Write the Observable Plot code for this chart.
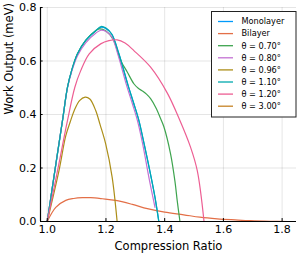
<!DOCTYPE html>
<html><head><meta charset="utf-8">
<script src="https://cdn.jsdelivr.net/npm/d3@7"></script>
<script src="https://cdn.jsdelivr.net/npm/@observablehq/plot@0.6"></script>
<style>
body{margin:0;background:#fff;}
#wrap{position:relative;width:299px;height:254px;font-family:"DejaVu Sans",sans-serif;}
#legend{position:absolute;left:210px;top:10px;}
</style></head><body><div id="wrap"></div>
<script>
const seriesNames = ["Monolayer","Bilayer","θ = 0.70°","θ = 0.80°","θ = 0.96°","θ = 1.10°","θ = 1.20°","θ = 3.00°"];
const seriesColors = ["#009AFA","#E36F47","#3EA44E","#C371D2","#AC8E18","#00A9AD","#ED5E93","#C68225"];
const xTicks = [1.0, 1.2, 1.4, 1.6, 1.8];
const yTicks = [0.0, 0.2, 0.4, 0.6, 0.8];

const monoX = [1.0, 1.026, 1.052, 1.069, 1.083, 1.103, 1.131, 1.166, 1.183, 1.20, 1.22, 1.244, 1.275, 1.295, 1.312, 1.33, 1.352, 1.367, 1.38];
const monoY = [0, 0.19, 0.378, 0.502, 0.564, 0.627, 0.677, 0.714, 0.726, 0.721, 0.70, 0.627, 0.51, 0.44, 0.378, 0.29, 0.175, 0.09, 0];

const biX = [1.0, 1.029, 1.063, 1.09, 1.12, 1.148, 1.188, 1.233, 1.29, 1.341, 1.40, 1.465, 1.52, 1.579, 1.64, 1.693, 1.76, 1.822];
const biY = [0, 0.053, 0.079, 0.086, 0.089, 0.089, 0.085, 0.079, 0.064, 0.048, 0.035, 0.025, 0.016, 0.010, 0.006, 0.003, 0.001, 0];

const t070X = [1.0, 1.026, 1.052, 1.069, 1.083, 1.103, 1.131, 1.166, 1.178, 1.20, 1.225, 1.25, 1.272, 1.295, 1.31, 1.324, 1.338, 1.352, 1.37, 1.386, 1.397, 1.42, 1.435, 1.443, 1.452];
const t070Y = [0, 0.19, 0.378, 0.502, 0.564, 0.627, 0.677, 0.714, 0.72, 0.712, 0.68, 0.602, 0.56, 0.515, 0.498, 0.488, 0.476, 0.459, 0.425, 0.385, 0.355, 0.253, 0.15, 0.075, 0];

const t080X = [1.0, 1.026, 1.052, 1.069, 1.083, 1.103, 1.131, 1.166, 1.183, 1.20, 1.22, 1.24, 1.27, 1.29, 1.307, 1.325, 1.347, 1.367];
const t080Y = [0, 0.19, 0.378, 0.50, 0.56, 0.62, 0.668, 0.705, 0.715, 0.71, 0.69, 0.627, 0.51, 0.44, 0.378, 0.29, 0.16, 0.053];

const t096X = [1.0, 1.04, 1.063, 1.08, 1.092, 1.11, 1.129, 1.145, 1.165, 1.18, 1.199, 1.221, 1.238];
const t096Y = [0, 0.19, 0.32, 0.378, 0.415, 0.452, 0.465, 0.458, 0.415, 0.362, 0.29, 0.166, 0];

const t110X = [1.0, 1.026, 1.052, 1.069, 1.083, 1.103, 1.131, 1.166, 1.183, 1.20, 1.22, 1.244, 1.275, 1.295, 1.312, 1.33, 1.352, 1.367, 1.38];
const t110Y = [0, 0.19, 0.378, 0.502, 0.564, 0.627, 0.677, 0.714, 0.729, 0.723, 0.70, 0.627, 0.51, 0.44, 0.378, 0.29, 0.175, 0.09, 0];

const t120X = [1.0, 1.035, 1.069, 1.094, 1.114, 1.143, 1.182, 1.21, 1.238, 1.265, 1.295, 1.352, 1.409, 1.449, 1.488, 1.511, 1.534];
const t120Y = [0, 0.19, 0.378, 0.502, 0.564, 0.627, 0.664, 0.676, 0.679, 0.667, 0.639, 0.577, 0.48, 0.385, 0.278, 0.19, 0];

const t300X = [1.0, 1.822];
const t300Y = [0, 0];

const seriesX = [monoX, biX, t070X, t080X, t096X, t110X, t120X, t300X];
const seriesY = [monoY, biY, t070Y, t080Y, t096Y, t110Y, t120Y, t300Y];

const data = seriesNames.flatMap((name, k) => seriesX[k].map((x, i) => ({series: name, x, y: seriesY[k][i]})));

const xDomain = [0.977, 1.849];
const yDomain = [0, 0.8];

const chart = Plot.plot({
  width: 299, height: 254,
  marginLeft: 40, marginRight: 3, marginTop: 7, marginBottom: 33,
  style: {fontFamily: "DejaVu Sans, sans-serif", fontSize: "11px", color: "#000", background: "#fff"},
  x: {domain: xDomain},
  y: {domain: yDomain},
  color: {domain: seriesNames, range: seriesColors},
  marks: [
    Plot.gridX(xTicks, {stroke: "#000", strokeOpacity: 0.1, strokeWidth: 1}),
    Plot.gridY(yTicks, {stroke: "#000", strokeOpacity: 0.1, strokeWidth: 1}),
    Plot.axisX(xTicks, {tickSize: 0, tickPadding: 4, tickFormat: d3.format(".1f"), label: null, fontSize: 11}),
    Plot.axisY(yTicks, {tickSize: 0, tickPadding: 4, tickFormat: d3.format(".1f"), label: null, fontSize: 11}),
    Plot.line(data, {x: "x", y: "y", z: "series", stroke: "series", strokeWidth: 1.2, curve: "catmull-rom"}),
    Plot.ruleX(xTicks, {y1: yDomain[0], y2: yDomain[0] + 0.011, stroke: "#000"}),
    Plot.ruleY(yTicks, {x1: xDomain[0], x2: xDomain[0] + 0.009, stroke: "#000"}),
    Plot.ruleX([xDomain[0]], {stroke: "#000", strokeWidth: 1.2}),
    Plot.ruleY([yDomain[0]], {stroke: "#000", strokeWidth: 1.2}),
    Plot.text(["Compression Ratio"], {frameAnchor: "bottom", dy: 28, fontSize: 11.5, fill: "#000"}),
    Plot.text(["Work Output (meV)"], {frameAnchor: "left", dx: -31, rotate: -90, fontSize: 11.5, fill: "#000"})
  ]
});

const wrap = document.getElementById("wrap");
wrap.appendChild(chart);

// legend box (inside the plot area, top-right), drawn as a small SVG overlay
const lg = d3.create("svg").attr("id", "legend").attr("width", 88).attr("height", 110)
  .style("font-family", "DejaVu Sans, sans-serif").style("font-size", "8.2px");
lg.append("rect").attr("x", 1.5).attr("y", 1.5).attr("width", 84.5).attr("height", 105.5)
  .attr("fill", "#fff").attr("stroke", "#222").attr("stroke-width", 1);
const rows = lg.selectAll("g").data(seriesNames).join("g")
  .attr("transform", (d, i) => `translate(0,${11.5 + 12.1 * i})`);
rows.append("line").attr("x1", 8).attr("x2", 23).attr("y1", 0).attr("y2", 0)
  .attr("stroke", (d, i) => seriesColors[i]).attr("stroke-width", 1.3);
rows.append("text").attr("x", 31.5).attr("y", 0).attr("dy", "0.35em").attr("fill", "#000").text(d => d);
wrap.appendChild(lg.node());
</script></body></html>
